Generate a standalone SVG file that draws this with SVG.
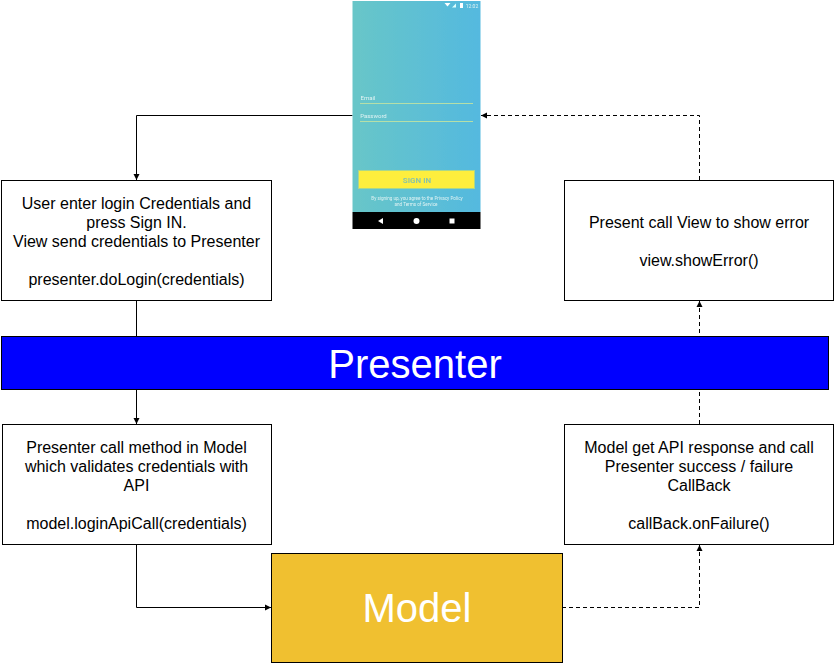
<svg xmlns="http://www.w3.org/2000/svg" width="834" height="663" viewBox="0 0 834 663">
<style>
.box{fill:#fff;stroke:#000;stroke-width:1}
.t{font-family:"Liberation Sans",Arial,sans-serif;font-size:16px;fill:#000;text-anchor:middle}
.big{font-family:"Liberation Sans",Arial,sans-serif;font-size:40px;fill:#fff;text-anchor:middle}
.c{fill:none;stroke:#000;stroke-width:1}
.d{stroke-dasharray:4 3}
.ph{font-family:"Roboto",sans-serif;fill:#e0f3f3;text-anchor:middle}
</style>
<defs>
<marker id="a" markerUnits="userSpaceOnUse" markerWidth="8" markerHeight="8" refX="7" refY="4" orient="auto"><path d="M1 1L7 4L1 7Z" fill="#000"/></marker>
<linearGradient id="g" x1="0" x2="1" y1="0" y2="0"><stop offset="0" stop-color="#68c6c8"/><stop offset="1" stop-color="#54b9df"/></linearGradient>
<filter id="b" x="-2%" y="-2%" width="104%" height="104%"><feGaussianBlur stdDeviation="0.35"/></filter>
</defs>
<rect width="834" height="663" fill="#fff"/>
<g id="connectors">
<path class="c" d="M352.500 115.500H136.500V180" marker-end="url(#a)"/>
<path class="c" d="M136.500 300V424" marker-end="url(#a)"/>
<path class="c" d="M136.500 544V607.500H271" marker-end="url(#a)"/>
<path class="c d" d="M562 607.500H699.500V545" marker-end="url(#a)"/>
<path class="c d" d="M699.500 424V301" marker-end="url(#a)"/>
<path class="c d" d="M699.500 180V115.500H481" marker-end="url(#a)"/>
</g>
<g id="phone" filter="url(#b)">
<rect x="352.500" y="1" width="128" height="211" fill="url(#g)"/>
<rect x="352.500" y="212" width="128" height="17" fill="#000"/>
<path d="M444.500 3h6l-3 3.500z" fill="#fff"/><path d="M452 7.500l4-4v4z" fill="#dff"/><rect x="460" y="3" width="3" height="5" fill="#fff"/>
<text class="ph" x="472" y="7.500" font-size="5">12:02</text>
<text class="ph" x="368" y="100" font-size="6">Email</text>
<path d="M360 103.500H473M360 121.500H473" stroke="#b5dfa8" stroke-width="1"/>
<text class="ph" x="373.500" y="118" font-size="6">Password</text>
<rect x="358.500" y="170.500" width="116" height="18" fill="#fdee3e" stroke="#a9d78c"/>
<text x="417" y="183" font-family="Roboto,sans-serif" font-size="8" font-weight="700" fill="#8cc4a4" text-anchor="middle">SIGN IN</text>
<text class="ph" x="417" y="199.500" font-size="4.600">By signing up, you agree to the Privacy Policy</text>
<text class="ph" x="416" y="205.500" font-size="4.600">and Terms of Service</text>
<path d="M378 221l5-3v6z" fill="#fff"/><circle cx="416.500" cy="221" r="3" fill="#fff"/><rect x="449.500" y="218.500" width="5" height="5" fill="#fff"/>
</g>
<g id="n1"><rect class="box" x="1.500" y="180.500" width="270" height="120"/>
<text class="t"><tspan x="136.500" y="208.500">User enter login Credentials and</tspan><tspan x="136.500" y="227.500">press Sign IN.</tspan><tspan x="136.500" y="246.500">View send credentials to Presenter</tspan><tspan x="136.500" y="284.500">presenter.doLogin(credentials)</tspan></text></g>
<g id="n2"><rect class="box" x="564.500" y="180.500" width="269" height="120"/>
<text class="t"><tspan x="699" y="227.500">Present call View to show error</tspan><tspan x="699" y="265.500">view.showError()</tspan></text></g>
<g id="presenter"><rect x="1.500" y="336.500" width="827" height="53" fill="#0000ff" stroke="#000"/>
<text class="big" x="415" y="378">Presenter</text></g>
<g id="n3"><rect class="box" x="2.500" y="424.500" width="269" height="120"/>
<text class="t"><tspan x="136.500" y="452.500">Presenter call method in Model</tspan><tspan x="136.500" y="471.500">which validates credentials with</tspan><tspan x="136.500" y="490.500">API</tspan><tspan x="136.500" y="528.500">model.loginApiCall(credentials)</tspan></text></g>
<g id="n4"><rect class="box" x="564.500" y="424.500" width="269" height="120"/>
<text class="t"><tspan x="699" y="452.500">Model get API response and call</tspan><tspan x="699" y="471.500">Presenter success / failure</tspan><tspan x="699" y="490.500">CallBack</tspan><tspan x="699" y="528.500">callBack.onFailure()</tspan></text></g>
<g id="model"><rect x="271.500" y="553.500" width="291" height="109" fill="#f0c030" stroke="#000"/>
<text class="big" x="417" y="622">Model</text></g>
</svg>
